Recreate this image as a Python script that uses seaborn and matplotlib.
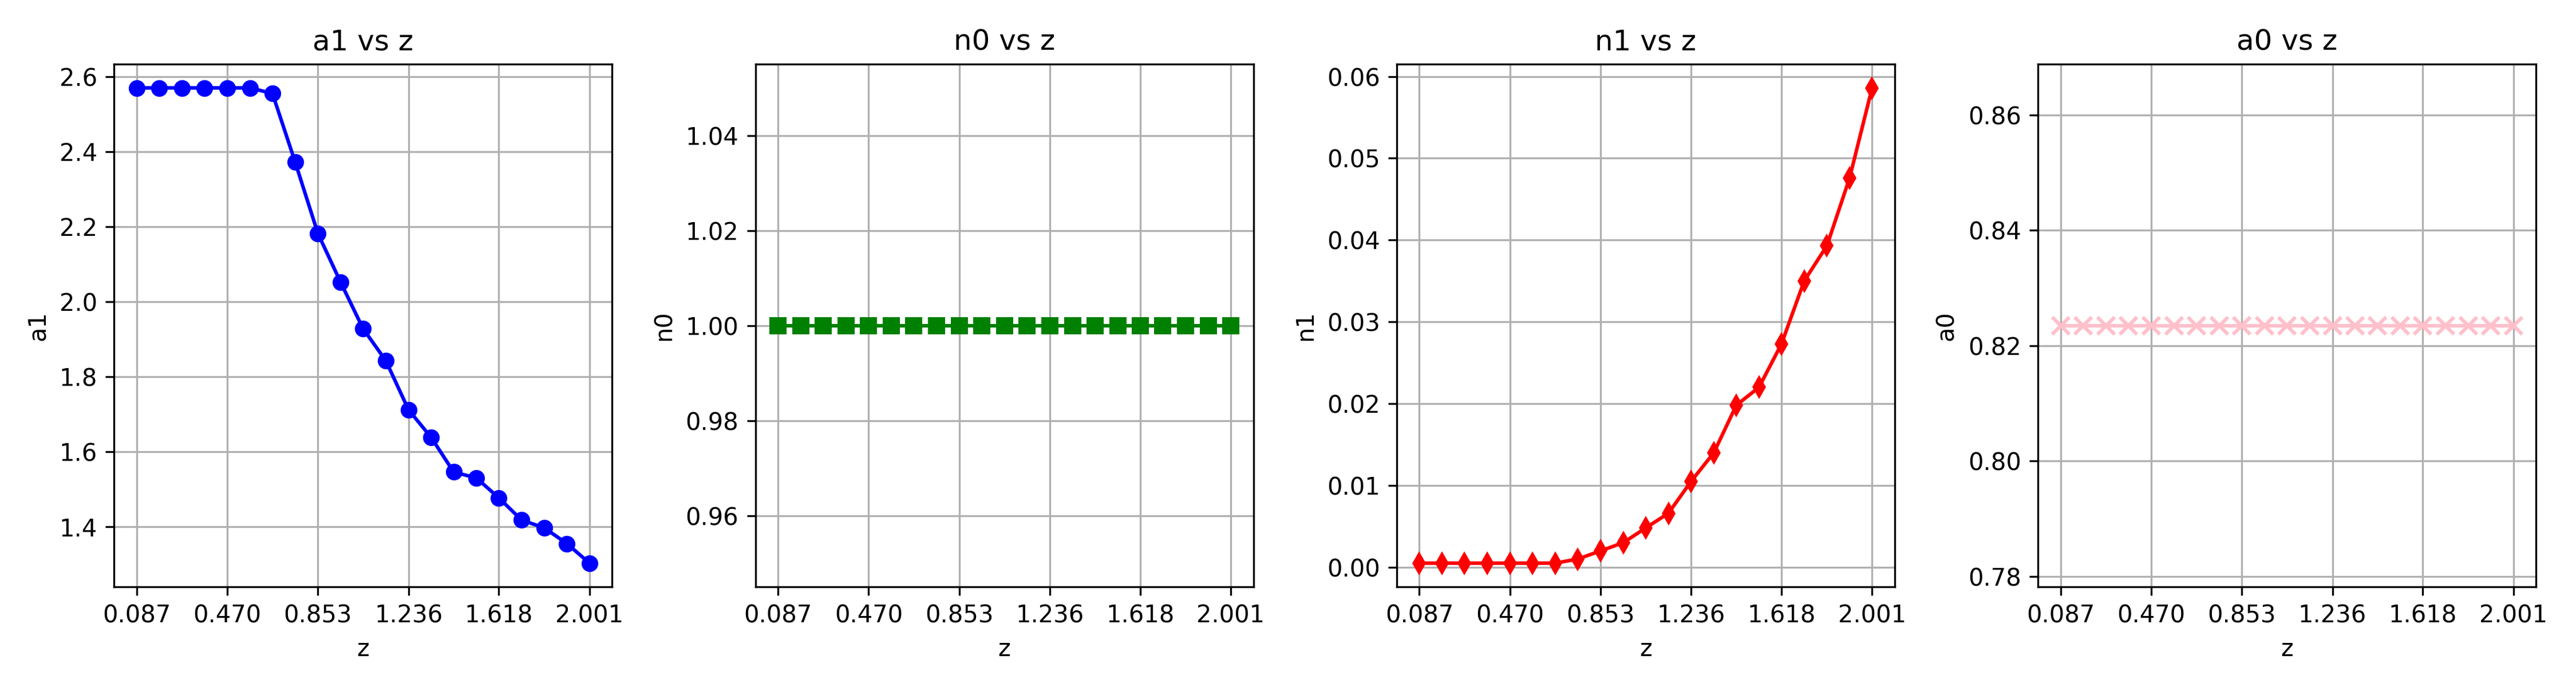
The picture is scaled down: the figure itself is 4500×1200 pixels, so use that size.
import matplotlib
matplotlib.use("Agg")
import matplotlib.pyplot as plt
import seaborn as sns

z = [0.087, 0.183, 0.278, 0.374, 0.470, 0.566, 0.661, 0.757, 0.853, 0.949, 1.044,
     1.140, 1.236, 1.332, 1.427, 1.523, 1.618, 1.714, 1.810, 1.906, 2.001]
a1 = [2.57, 2.57, 2.57, 2.57, 2.57, 2.57, 2.555, 2.372, 2.182, 2.052, 1.928,
      1.843, 1.712, 1.638, 1.546, 1.530, 1.477, 1.418, 1.397, 1.355, 1.303]
n0 = [1.0] * 21
n1 = [0.0005, 0.0005, 0.0005, 0.0005, 0.0005, 0.0005, 0.0005, 0.001, 0.002, 0.003, 0.0048,
      0.0066, 0.0105, 0.014, 0.0198, 0.022, 0.0273, 0.035, 0.0393, 0.0476, 0.0586]
a0 = [0.8235] * 21

panels = [
    ("a1", a1, "blue", "o"),
    ("n0", n0, "green", "s"),
    ("n1", n1, "red", "d"),
    ("a0", a0, "pink", "x"),
]

fig, axes = plt.subplots(1, 4, figsize=(15, 4))
for ax, (name, vals, color, marker) in zip(axes, panels):
    sns.lineplot(x=z, y=vals, ax=ax, color=color, marker=marker, markersize=7,
                 markeredgecolor=color, markeredgewidth=1.5 if marker == "x" else 0)
    ax.set_title(f"{name} vs z")
    ax.set_xlabel("z")
    ax.set_ylabel(name)
    ax.set_xticks(z[::4])
    ax.set_xticklabels([f"{v:.3f}" for v in z[::4]])
    ax.grid(True)

fig.tight_layout()
fig.savefig("out.png", dpi=300)
